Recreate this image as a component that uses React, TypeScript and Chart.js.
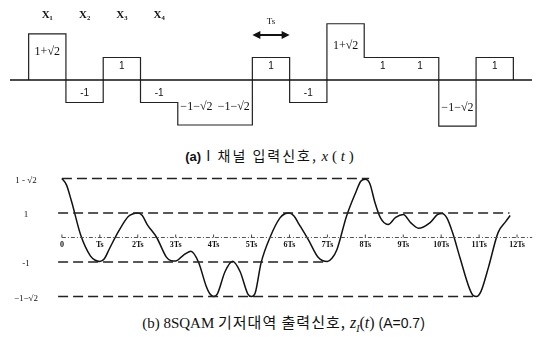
import React, { useEffect, useRef } from "react";
import { Chart, registerables } from "chart.js";
Chart.register(...registerables);

// ---- Panel (a): input symbols ----
const symbolNames = ["X\u2081", "X\u2082", "X\u2083", "X\u2084"];
const inputLevels = [2.05, -1, 1, -1, -2.0, -2.0, 1, -1, 2.5, 1, 1, -2.05, 1];
const inputLabels = ["1+\u221A2", "-1", "1", "-1", "\u22121\u2212\u221A2", "\u22121\u2212\u221A2", "1", "-1", "1+\u221A2", "1", "1", "\u22121\u2212\u221A2", "1"];

// ---- Panel (b): baseband output ----
const outTimes = [0, 0.12, 0.25, 0.5, 0.75, 0.88, 1, 1.12, 1.25, 1.5, 1.75, 1.88, 2, 2.12, 2.25, 2.5, 2.75, 2.88, 3, 3.2, 3.4, 3.6, 3.8, 3.9, 4, 4.1, 4.3, 4.5, 4.7, 4.9, 5, 5.1, 5.25, 5.5, 5.75, 5.88, 6, 6.12, 6.25, 6.5, 6.75, 6.88, 7, 7.12, 7.25, 7.5, 7.75, 7.88, 8, 8.12, 8.25, 8.4, 8.6, 8.8, 9, 9.2, 9.4, 9.7, 9.9, 10.02, 10.15, 10.3, 10.5, 10.75, 10.85, 10.93, 11.05, 11.25, 11.5, 11.7, 11.82];
const outValues = [2.41, 2.15, 1.5, 0.08, -0.75, -0.93, -0.98, -0.87, -0.47, 0.27, 0.86, 0.97, 1.0, 0.9, 0.53, 0.0, -0.79, -0.95, -0.96, -0.73, -0.56, -1.0, -1.97, -2.3, -2.41, -2.3, -1.4, -0.97, -1.4, -2.3, -2.41, -2.25, -1.05, 0.05, 0.8, 0.97, 1.0, 0.88, 0.55, -0.1, -0.8, -0.95, -0.98, -0.85, -0.5, 0.85, 1.85, 2.3, 2.38, 2.2, 1.45, 0.8, 0.53, 0.82, 0.94, 0.6, 0.38, 0.6, 0.93, 0.98, 0.8, 0.2, -0.85, -2.1, -2.38, -2.41, -2.2, -1.2, 0.2, 0.65, 0.9];
const levelValues = [2.414, 1, -1, -2.414];
const levelLabels = ["1 - \u221A2", "1", "-1", "\u22121\u2212\u221A2"];
const levelStarts = [0, -0.1, -0.1, -0.1];
const levelEnds = [8.1, 11.8, 7.0, 10.9];
const timeTicks = [0, 1, 2, 3, 4, 5, 6, 7, 8, 9, 10, 11, 12];
const timeTickLabels = ["0", "Ts", "2Ts", "3Ts", "4Ts", "5Ts", "6Ts", "7Ts", "8Ts", "9Ts", "10Ts", "11Ts", "12Ts"];

const topPlugin = {
  id: "topLabels",
  afterDatasetsDraw(chart: any) {
    const { ctx, scales } = chart;
    const x = scales.x, y = scales.y;
    ctx.save();
    ctx.fillStyle = "#111";
    ctx.textAlign = "center";
    ctx.textBaseline = "middle";
    inputLevels.forEach((v, i) => {
      const lbl = inputLabels[i];
      ctx.font = lbl.includes("\u221A") ? '12px "Liberation Serif"' : '10px "Liberation Sans"';
      ctx.fillText(lbl, x.getPixelForValue(i + 0.5), y.getPixelForValue(v * 0.6));
    });
    ctx.font = 'bold 11px "Liberation Serif"';
    symbolNames.forEach((s, i) => {
      ctx.fillText(s, x.getPixelForValue(i + 0.5), y.getPixelForValue(2.89));
    });
    // Ts double arrow
    const x0 = x.getPixelForValue(6), x1 = x.getPixelForValue(7);
    const ay = y.getPixelForValue(2.0);
    ctx.strokeStyle = "#111";
    ctx.lineWidth = 2;
    ctx.beginPath();
    ctx.moveTo(x0 + 5, ay);
    ctx.lineTo(x1 - 5, ay);
    ctx.stroke();
    ctx.beginPath();
    ctx.moveTo(x0, ay); ctx.lineTo(x0 + 8, ay - 4); ctx.lineTo(x0 + 8, ay + 4); ctx.closePath();
    ctx.moveTo(x1, ay); ctx.lineTo(x1 - 8, ay - 4); ctx.lineTo(x1 - 8, ay + 4); ctx.closePath();
    ctx.fill();
    ctx.font = '9px "Liberation Serif"';
    ctx.fillText("Ts", (x0 + x1) / 2, y.getPixelForValue(2.6));
    ctx.restore();
  },
};

const botPlugin = {
  id: "botLabels",
  afterDatasetsDraw(chart: any) {
    const { ctx, scales } = chart;
    const x = scales.x, y = scales.y;
    ctx.save();
    ctx.fillStyle = "#111";
    ctx.textAlign = "center";
    ctx.textBaseline = "middle";
    ctx.font = '9px "Liberation Serif"';
    levelValues.forEach((v, i) => {
      ctx.fillText(levelLabels[i], 21, y.getPixelForValue(v) + 2);
    });
    const zy = y.getPixelForValue(0);
    ctx.font = 'bold 8px "Liberation Serif"';
    ctx.strokeStyle = "#444";
    ctx.lineWidth = 1;
    timeTicks.forEach((t, i) => {
      const px = x.getPixelForValue(t);
      ctx.beginPath();
      ctx.moveTo(px, zy - 3);
      ctx.lineTo(px, zy);
      ctx.stroke();
      ctx.fillText(timeTickLabels[i], px, zy + 7);
    });
    ctx.restore();
  },
};

export default function App() {
  const topRef = useRef<HTMLCanvasElement>(null);
  const botRef = useRef<HTMLCanvasElement>(null);

  useEffect(() => {
    const stepData = [
      { x: 0, y: 0 },
      ...inputLevels.map((v, i) => ({ x: i, y: v })),
      { x: inputLevels.length, y: 0 },
    ];
    const c1 = new Chart(topRef.current!, {
      type: "line",
      data: {
        datasets: [
          {
            data: [{ x: -0.5, y: 0 }, { x: 13.5, y: 0 }],
            borderColor: "#111",
            borderWidth: 1.6,
            pointRadius: 0,
          },
          {
            data: stepData,
            stepped: true,
            borderColor: "#222",
            borderWidth: 1.2,
            pointRadius: 0,
          },
        ],
      },
      options: {
        animation: false,
        responsive: false,
        events: [],
        plugins: { legend: { display: false }, tooltip: { enabled: false } },
        layout: { padding: 0 },
        scales: {
          x: { type: "linear", min: -0.5, max: 13.5, display: false },
          y: { type: "linear", min: -2.8, max: 3.2, display: false },
        },
      },
      plugins: [topPlugin],
    });

    const levelSets = levelValues.map((v, i) => ({
      data: [{ x: levelStarts[i], y: v }, { x: levelEnds[i], y: v }],
      borderColor: "#222",
      borderWidth: 1.6,
      borderDash: [10, 5],
      pointRadius: 0,
    }));
    const c2 = new Chart(botRef.current!, {
      type: "line",
      data: {
        datasets: [
          ...levelSets,
          {
            data: [{ x: 0, y: 0 }, { x: 12.4, y: 0 }],
            borderColor: "#555",
            borderWidth: 1,
            borderDash: [4, 2, 1, 2],
            pointRadius: 0,
          },
          {
            data: outTimes.map((t, i) => ({ x: t, y: outValues[i] })),
            borderColor: "#111",
            borderWidth: 1.5,
            cubicInterpolationMode: "monotone",
            pointRadius: 0,
          },
        ],
      },
      options: {
        animation: false,
        responsive: false,
        events: [],
        plugins: { legend: { display: false }, tooltip: { enabled: false } },
        layout: { padding: 0 },
        scales: {
          x: { type: "linear", min: -1.5, max: 12.5, display: false },
          y: { type: "linear", min: -2.8, max: 2.8, display: false },
        },
      },
      plugins: [botPlugin],
    });
    return () => {
      c1.destroy();
      c2.destroy();
    };
  }, []);

  return (
    <div style={{ position: "absolute", left: 0, top: 0, width: 539, height: 337, background: "#fff", overflow: "hidden" }}>
      <canvas ref={topRef} width={522} height={135} style={{ position: "absolute", left: 10, top: 8 }} />
      <canvas ref={botRef} width={531} height={137} style={{ position: "absolute", left: 5, top: 169 }} />
      <div style={{ position: "absolute", left: 0, top: 145, width: 539, textAlign: "center", whiteSpace: "nowrap", fontSize: 14, color: "#111", lineHeight: "20px" }}>
        <span style={{ marginLeft: 0, fontFamily: '"Liberation Sans"', fontWeight: "bold", fontSize: 13 }}>(a)</span>
        <span style={{ fontFamily: '"Noto Sans CJK KR"', letterSpacing: 2 }}> I 채널 입력신호,</span>
        <span style={{ fontFamily: '"Liberation Serif"', fontSize: 15 }}> <i>x</i> ( <i>t</i> )</span>
      </div>
      <div style={{ position: "absolute", left: 14, top: 311, width: 539, textAlign: "center", whiteSpace: "nowrap", fontSize: 15, color: "#111", lineHeight: "22px" }}>
        <span style={{ fontFamily: '"Liberation Serif"' }}>(b) 8SQAM </span>
        <span style={{ fontFamily: '"Noto Sans CJK KR"', letterSpacing: 1 }}>기저대역 출력신호,</span>
        <span style={{ fontFamily: '"Liberation Serif"', fontSize: 16 }}> <i>z</i><sub style={{ fontSize: 10 }}><i>I</i></sub>(<i>t</i>)</span>
        <span style={{ fontFamily: '"Liberation Sans"', fontSize: 14 }}> (A=0.7)</span>
      </div>
    </div>
  );
}
